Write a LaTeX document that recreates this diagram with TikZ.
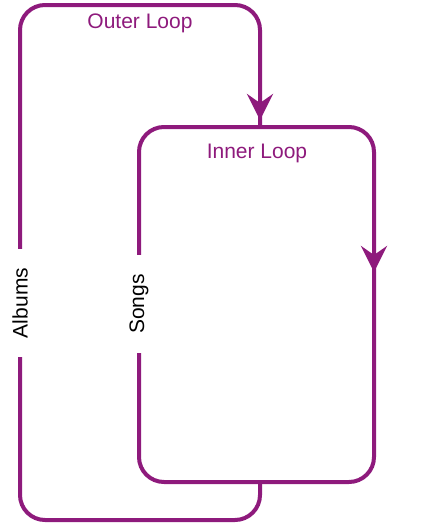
\documentclass[tikz,border=0pt]{standalone}
\usepackage{fontspec}
\setmainfont{Liberation Sans}
\usetikzlibrary{arrows.meta}
\definecolor{loopc}{RGB}{142,26,124}
\tikzset{
  loopline/.style={draw=loopc, line width=4pt, rounded corners=25pt},
  looptip/.style={draw=loopc, line width=4pt, -{Stealth[length=26pt,width=26pt,inset=9pt]}},
  looplabel/.style={text=loopc, font=\fontsize{21}{25}\selectfont},
  sidelabel/.style={fill=white, rotate=90, inner xsep=19pt, inner ysep=4pt, font=\fontsize{21}{25}\selectfont}
}
\begin{document}
\begin{tikzpicture}[x=1pt,y=-1pt]
\useasboundingbox (0,0) rectangle (441,525);
% inner loop box
\draw[loopline] (139,127) rectangle (374,482);
% outer loop
\coordinate (otop) at (260,127);
\coordinate (obot) at (260,482);
\draw[loopline] (otop) -- (260,5) -- (20,5) -- (20,520) -- (260,520) -- (obot);
% arrowheads
\coordinate (a1s) at (260,80);
\coordinate (a1e) at (260,120);
\draw[looptip] (a1s) -- (a1e);
\coordinate (a2s) at (374,230);
\coordinate (a2e) at (374,272);
\draw[looptip] (a2s) -- (a2e);
% labels
\node[looplabel] (outer) at (140,23) {Outer Loop};
\node[looplabel] (inner) at (257,153) {Inner Loop};
\node[sidelabel] (albums) at (20,303) {Albums};
\node[sidelabel] (songs) at (139,304) {Songs};
\end{tikzpicture}
\end{document}
